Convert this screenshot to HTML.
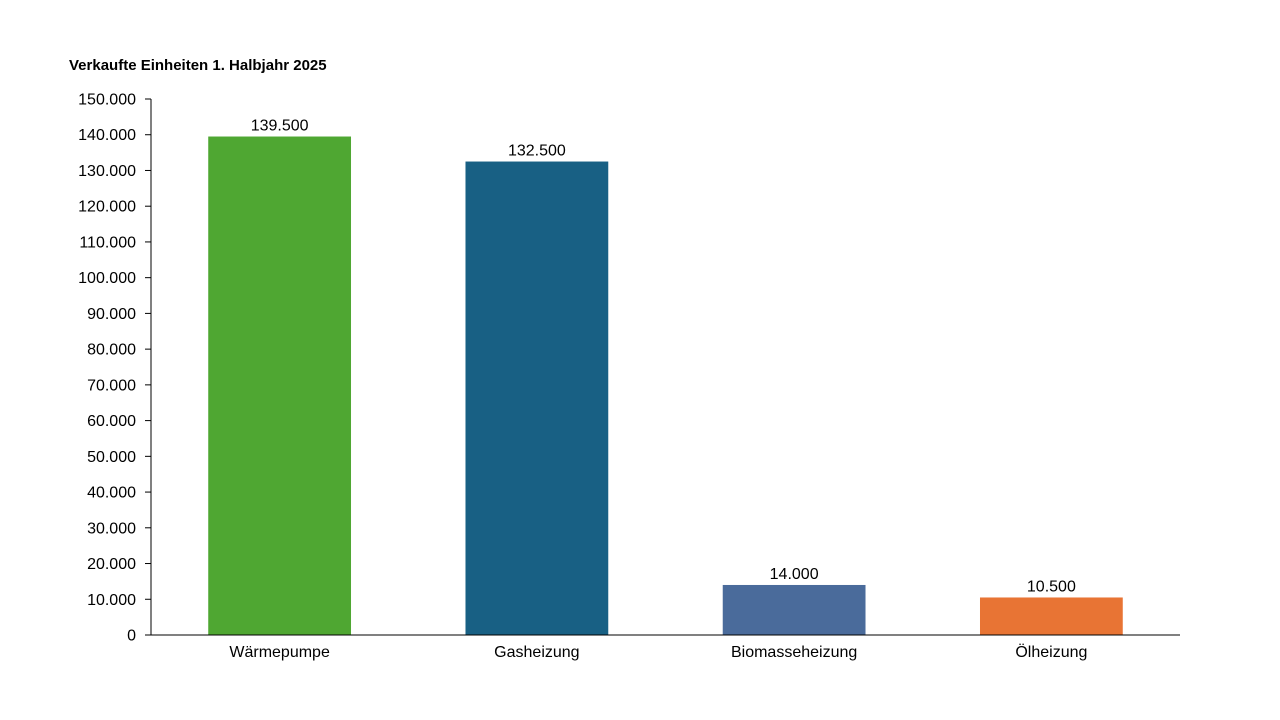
<!DOCTYPE html>
<html><head><meta charset="utf-8"><style>
html,body{margin:0;padding:0;background:#fff;}
svg{display:block;font-family:"Liberation Sans",sans-serif;}
</style></head><body>
<svg id="chart" width="1280" height="720">
<text x="69" y="70" font-size="15" font-weight="bold" fill="#000">Verkaufte Einheiten 1. Halbjahr 2025</text>
<g id="yaxis"></g>
<g id="bars"></g>
<g id="xaxis"></g>
</svg>
<script>
const categories = ["Wärmepumpe","Gasheizung","Biomasseheizung","Ölheizung"];
const values = [139500,132500,14000,10500];
const colors = ["#4fa732","#186084","#4a6b9b","#e87434"];
const yTicks = [0,10000,20000,30000,40000,50000,60000,70000,80000,90000,100000,110000,120000,130000,140000,150000];
const yMax = 150000;

const NS="http://www.w3.org/2000/svg";
const x0=151,x1=1180,yTop=99,yBot=635;
const y=v=>yBot-(v/yMax)*(yBot-yTop);
const band=(x1-x0)/categories.length;
const xc=i=>x0+band*(i+0.5);
const bw=band*0.555;
const fmt=v=>v.toLocaleString("de-DE");
function mk(t,a,p){const e=document.createElementNS(NS,t);for(const k in a)e.setAttribute(k,a[k]);p.appendChild(e);return e;}
const ya=document.getElementById("yaxis"),bg=document.getElementById("bars"),xa=document.getElementById("xaxis");
const yl=mk("line",{x1:x0,y1:yTop,x2:x0,y2:yBot,stroke:"#000","stroke-width":1},ya);


yTicks.forEach(t=>{
  const l=mk("line",{x1:x0-6,y1:y(t),x2:x0,y2:y(t),stroke:"#000","stroke-width":1},ya);
  
  
  const tx=mk("text",{x:136,y:y(t)+5.5,"font-size":16,"text-anchor":"end",fill:"#000"},ya);
  tx.textContent=fmt(t);
  
  
});
values.forEach((v,i)=>{
  const r=mk("rect",{x:xc(i)-bw/2,y:y(v),width:bw,height:yBot-y(v),fill:colors[i]},bg);
  
  
  const lb=mk("text",{x:xc(i),y:y(v)-6,"font-size":16,"text-anchor":"middle",fill:"#000"},bg);
  lb.textContent=fmt(v);
  
  
  const cl=mk("text",{x:xc(i),y:657,"font-size":16,"text-anchor":"middle",fill:"#000"},xa);
  cl.textContent=categories[i];
  
  
});
const xl=mk("line",{x1:x0,y1:yBot,x2:x1,y2:yBot,stroke:"#000","stroke-width":1},xa);


</script>
</body></html>
